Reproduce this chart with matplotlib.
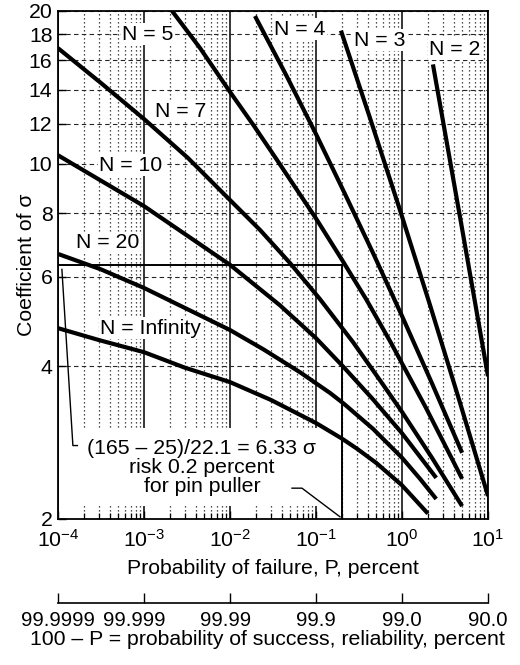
import matplotlib
matplotlib.use('Agg')
import matplotlib.pyplot as plt
import matplotlib.transforms as mtransforms
from matplotlib.ticker import FixedLocator, NullLocator, NullFormatter, LogLocator

plt.rcParams['font.family'] = ['Liberation Sans', 'DejaVu Sans']
plt.rcParams['mathtext.fontset'] = 'custom'
plt.rcParams['mathtext.rm'] = 'Liberation Sans'
plt.rcParams['mathtext.it'] = 'Liberation Sans:italic'
plt.rcParams['mathtext.bf'] = 'Liberation Sans:bold'
plt.rcParams['font.size'] = 15.3

# ---------------- data ----------------
x_ticks = [1e-4, 1e-3, 1e-2, 1e-1, 1e0, 1e1]
x_tick_labels = ['10$^{-4}$', '10$^{-3}$', '10$^{-2}$', '10$^{-1}$', '10$^{0}$', '10$^{1}$']
y_ticks = [2, 4, 6, 8, 10, 12, 14, 16, 18, 20]
y_tick_labels = ['2', '4', '6', '8', '10', '12', '14', '16', '18', '20']
reliability_labels = ['99.9999', '99.999', '99.99', '99.9', '99.0', '90.0']

n2_x = [2.29, 5.0, 10.0]
n2_y = [15.7, 7.45, 3.82]

n3_x = [0.195, 0.424, 0.948, 2.12, 4.72, 10.0]
n3_y = [18.3, 12.32, 8.11, 5.27, 3.39, 2.22]

n4_x = [0.0195, 0.0437, 0.1, 0.217, 0.46, 1.0, 2.23, 5.0]
n4_y = [19.55, 15.10, 11.45, 8.73, 6.68, 5.02, 3.70, 2.70]

n5_x = [2.12e-3, 4.48e-3, 0.01, 0.019, 0.0352, 0.1, 0.2, 0.382, 0.725, 1.90, 5.0]
n5_y = [20.0, 16.91, 13.86, 11.88, 10.18, 7.81, 6.48, 5.42, 4.48, 3.31, 2.40]

n7_x = [1e-4, 3.16e-4, 1e-3, 3.25e-3, 0.01, 0.0224, 0.0499, 0.111, 0.269, 0.555, 1.0, 2.23, 5.0]
n7_y = [16.9, 14.43, 12.26, 10.27, 8.49, 7.41, 6.38, 5.42, 4.46, 3.75, 3.25, 2.64, 2.12]

n10_x = [1e-4, 1e-3, 0.01, 0.038, 0.1, 0.21, 0.46, 1.0, 2.5]
n10_y = [10.4, 8.26, 6.33, 5.27, 4.54, 3.98, 3.44, 2.95, 2.41]

n20_x = [1e-4, 3.16e-4, 1e-3, 0.01, 0.0242, 0.0651, 0.146, 0.212, 0.46, 1.0, 1.62, 2.5]
n20_y = [6.65, 6.20, 5.70, 4.71, 4.32, 3.89, 3.54, 3.37, 3.01, 2.64, 2.40, 2.19]

ninf_x = [1e-4, 3e-4, 1e-3, 3e-3, 1e-2, 0.03, 0.1, 0.2, 0.3, 0.5, 1.0, 2.0]
ninf_y = [4.75, 4.50, 4.26, 3.97, 3.72, 3.43, 3.09, 2.88, 2.75, 2.58, 2.33, 2.05]

curves = [
    (n2_x, n2_y, 'N = 2', (4.13, 16.8)),
    (n3_x, n3_y, 'N = 3', (0.555, 17.5)),
    (n4_x, n4_y, 'N = 4', (0.0652, 18.4)),
    (n5_x, n5_y, 'N = 5', (1.11e-3, 18.0)),
    (n7_x, n7_y, 'N = 7', (2.69e-3, 12.7)),
    (n10_x, n10_y, 'N = 10', (7.06e-4, 9.95)),
    (n20_x, n20_y, 'N = 20', (3.81e-4, 6.99)),
    (ninf_x, ninf_y, 'N = Infinity', (1.2e-3, 4.75)),
]

risk_P = 0.2
coef_sigma = 6.33
note_text = '(165 \u2013 25)/22.1 = 6.33 \u03c3\nrisk 0.2 percent\nfor pin puller'
note_pos = (4.72e-3, 2.53)
leader1_x = [1.11e-4, 1.49e-4, 1.68e-4]
leader1_y = [6.2, 2.79, 2.79]
leader2_x = [0.0526, 0.0687, 0.190]
leader2_y = [2.30, 2.30, 2.02]

# ---------------- figure ----------------
W, H = 520, 665
L, R, T, B = 58, 488, 11, 519
fig = plt.figure(figsize=(W / 100, H / 100), dpi=100)
ax = fig.add_axes([L / W, 1 - B / H, (R - L) / W, (B - T) / H])
ax.set_xscale('log')
ax.set_yscale('log')
ax.set_xlim(1e-4, 10)
ax.set_ylim(2, 20)

ax.xaxis.set_major_locator(FixedLocator(x_ticks))
ax.set_xticklabels(x_tick_labels)
ax.xaxis.set_minor_locator(LogLocator(base=10, subs=[2, 3, 4, 5, 6, 7, 8, 9], numticks=20))
ax.xaxis.set_minor_formatter(NullFormatter())
ax.yaxis.set_major_locator(FixedLocator(y_ticks))
ax.set_yticklabels(y_tick_labels)
ax.yaxis.set_minor_locator(NullLocator())

ax.grid(which='major', axis='x', color='black', lw=1.1, ls='-')
ax.grid(which='minor', axis='x', color='0.1', lw=0.9, ls=(0, (1, 2.2)))
ax.grid(which='major', axis='y', color='0.15', lw=0.8, ls=(0, (4, 3)))

ax.tick_params(which='major', direction='in', length=6, width=1.0,
               top=False, right=False)
ax.tick_params(which='minor', direction='in', length=4.5, width=0.9,
               top=False, right=False)
ax.tick_params(axis='x', which='major', pad=7)
ax.tick_params(axis='y', which='major', pad=4)
for s in ax.spines.values():
    s.set_linewidth(1.3)

for xs, ys, lab, pos in curves:
    ax.plot(xs, ys, color='black', lw=3.0, solid_capstyle='butt',
            solid_joinstyle='round', zorder=5)
    ax.text(pos[0], pos[1], lab, ha='center', va='center', zorder=3,
            bbox=dict(facecolor='white', edgecolor='none', pad=1.0))

# reference lines for the pin puller example
ax.plot([1e-4, risk_P], [coef_sigma, coef_sigma], color='black', lw=1.4, zorder=4)
ax.plot([risk_P, risk_P], [2, coef_sigma], color='black', lw=1.4, zorder=4)

ax.text(note_pos[0], note_pos[1], note_text, ha='center', va='center',
        linespacing=1.0, zorder=3,
        bbox=dict(boxstyle='square,pad=0.5', facecolor='white', edgecolor='none'))
ax.plot(leader1_x, leader1_y, color='black', lw=1.0, zorder=4)
ax.plot(leader2_x, leader2_y, color='black', lw=1.0, zorder=4)

ax.set_xlabel('Probability of failure, P, percent', labelpad=6)
ax.set_ylabel('Coefficient of \u03c3')
ax.yaxis.set_label_coords(-0.05, 0.5)

# secondary reliability scale
sec = ax.secondary_xaxis(-(603 - B) / (B - T), functions=(lambda v: v, lambda v: v))
sec.set_xticks(x_ticks, labels=reliability_labels)
sec.xaxis.set_minor_locator(NullLocator())
sec.tick_params(direction='in', length=7, width=1.0, pad=6, labelsize=14.6)
sec.spines['bottom'].set_linewidth(1.2)
sec.set_xlabel('100 \u2013 P = probability of success, reliability, percent', labelpad=0)
sec.xaxis.label.set_x(0.487)
shifts = [0, -10, -4, 0, 0, 0]
for lab, dx in zip(sec.xaxis.get_ticklabels(), shifts):
    if dx:
        lab.set_transform(lab.get_transform() +
                          mtransforms.ScaledTranslation(dx / 100, 0, fig.dpi_scale_trans))

fig.savefig('out.png', dpi=100)
